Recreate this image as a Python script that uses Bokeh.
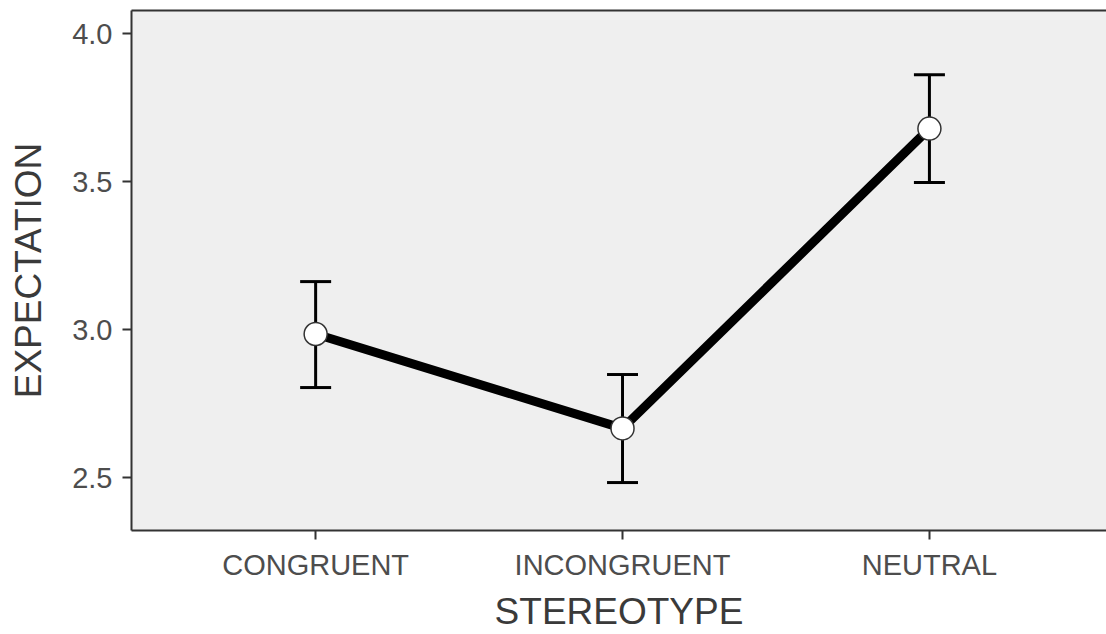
from bokeh.plotting import figure
from bokeh.models import (ColumnDataSource, Whisker, TeeHead, FixedTicker, LinearAxis, Range1d)
from bokeh.embed import file_html
from bokeh.resources import INLINE

categories = ["CONGRUENT", "INCONGRUENT", "NEUTRAL"]
positions = [1, 2, 3]
means = [2.985, 2.666, 3.679]
upper = [3.162, 2.848, 3.861]
lower = [2.804, 2.483, 3.497]
y_ticks = [2.5, 3.0, 3.5, 4.0]
y_tick_labels = ["2.5", "3.0", "3.5", "4.0"]

src = ColumnDataSource(dict(x=positions, y=means, upper=upper, lower=lower))

FONT = "Liberation Sans"
AX = "#333333"

p = figure(width=1106, height=634, output_backend="svg", toolbar_location=None,
           x_range=Range1d(0.4, 3.577), y_range=Range1d(2.321, 4.078),
           min_border_left=131, min_border_right=0, min_border_top=10, min_border_bottom=104)
p.outline_line_color = None
p.background_fill_color = "#efefef"
p.border_fill_color = "white"
p.xgrid.visible = False
p.ygrid.visible = False

for ax in (p.xaxis[0], p.yaxis[0]):
    ax.axis_line_color = AX
    ax.axis_line_width = 2
    ax.major_tick_line_color = AX
    ax.major_tick_line_width = 2
    ax.major_tick_out = 9
    ax.major_tick_in = 0
    ax.minor_tick_line_color = None
    ax.major_label_text_font = FONT
    ax.major_label_text_font_size = "29px"
    ax.major_label_text_color = "#4d4d4d"
    ax.axis_label_text_font = FONT
    ax.axis_label_text_font_size = "37px"
    ax.axis_label_text_font_style = "normal"
    ax.axis_label_text_color = "#3a3a3a"

p.xaxis.ticker = FixedTicker(ticks=positions)
p.xaxis.major_label_overrides = {pos: c for pos, c in zip(positions, categories)}
p.xaxis.axis_label = "STEREOTYPE"
p.xaxis.major_label_standoff = 9
p.xaxis.axis_label_standoff = 7

p.yaxis.ticker = FixedTicker(ticks=y_ticks)
p.yaxis.major_label_overrides = {t: l for t, l in zip(y_ticks, y_tick_labels)}
p.yaxis.axis_label = "EXPECTATION"
p.yaxis.major_label_standoff = 10
p.yaxis.axis_label_standoff = 20

top = LinearAxis(ticker=FixedTicker(ticks=[]), axis_line_color=AX, axis_line_width=2,
                 major_tick_line_color=None, minor_tick_line_color=None,
                 major_label_text_font_size="0px")
p.add_layout(top, "above")

w = Whisker(source=src, base="x", upper="upper", lower="lower", line_color="black", line_width=3,
            upper_head=TeeHead(size=31, line_color="black", line_width=3),
            lower_head=TeeHead(size=31, line_color="black", line_width=3))
p.add_layout(w)

p.line("x", "y", source=src, line_color="black", line_width=9)
p.scatter("x", "y", source=src, size=23, fill_color="white", line_color="#333333", line_width=1.5)

open("out.html", "w").write(file_html(p, INLINE))
